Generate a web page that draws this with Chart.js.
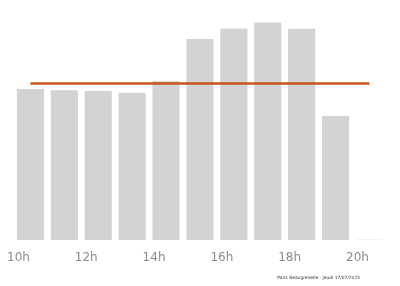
<!DOCTYPE html>
<html lang="fr">
<head>
    <meta charset="UTF-8">
    <title>Affluence Paris Beaugrenelle</title>
    <script src="https://cdn.jsdelivr.net/npm/chart.js"></script>
    <style>
        html, body {
            margin: 0;
            padding: 0;
            background: #fff;
        }

        .wrap {
            position: relative;
            width: 400px;
            height: 286px;
        }

        #note {
            position: absolute;
            right: 40px;
            top: 275px;
            font-family: 'DejaVu Sans', sans-serif;
            font-size: 4.4px;
            line-height: 6px;
            color: #333;
            white-space: nowrap;
        }
    </style>
</head>
<body>

    <div class="wrap">
        <canvas id="crowdChart" width="400" height="286"></canvas>
        <div id="note">Paris Beaugrenelle - jeudi 17/07/2025</div>
    </div>

    <script>
        // hourly slots, 10h -> 20h
        const hours = ["10h", "11h", "12h", "13h", "14h", "15h", "16h", "17h", "18h", "19h", "20h"];
        // crowd level for the day (relative, 0-100)
        const crowd = [65.7, 65.1, 64.8, 64.0, 69.1, 87.4, 92.0, 94.6, 91.9, 53.9, 0.2];
        // usual level for the day
        const usual = [68.1, 68.1, 68.1, 68.1, 68.1, 68.1, 68.1, 68.1, 68.1, 68.1, 68.1];
        // only every other hour gets a tick label
        const shownTicks = ["10h", "12h", "14h", "16h", "18h", "20h"];

        new Chart(document.getElementById("crowdChart"), {
            type: "bar",
            data: {
                labels: hours,
                datasets: [
                    {
                        type: "line",
                        data: usual,
                        borderColor: "#c9521f",
                        borderWidth: 2.5,
                        pointRadius: 0,
                        tension: 0,
                        order: 0
                    },
                    {
                        data: crowd,
                        backgroundColor: "#d3d3d3",
                        borderWidth: 0,
                        barPercentage: 0.8,
                        categoryPercentage: 1,
                        order: 1
                    }
                ]
            },
            options: {
                responsive: false,
                animation: false,
                layout: {
                    padding: { left: 13.5, right: 13.6, top: 10, bottom: 18.5 }
                },
                plugins: {
                    legend: { display: false },
                    tooltip: { enabled: false }
                },
                scales: {
                    x: {
                        offset: true,
                        grid: { display: false },
                        border: { display: false },
                        ticks: {
                            autoSkip: false,
                            maxRotation: 0,
                            padding: 2.5,
                            labelOffset: -12,
                            color: "#8a8a8a",
                            font: { family: "DejaVu Sans", size: 12 },
                            callback: function (value) {
                                const lab = this.getLabelForValue(value);
                                return shownTicks.includes(lab) ? lab : "";
                            }
                        }
                    },
                    y: {
                        display: false,
                        min: 0,
                        max: 100
                    }
                }
            }
        });
    </script>

</body>
</html>
